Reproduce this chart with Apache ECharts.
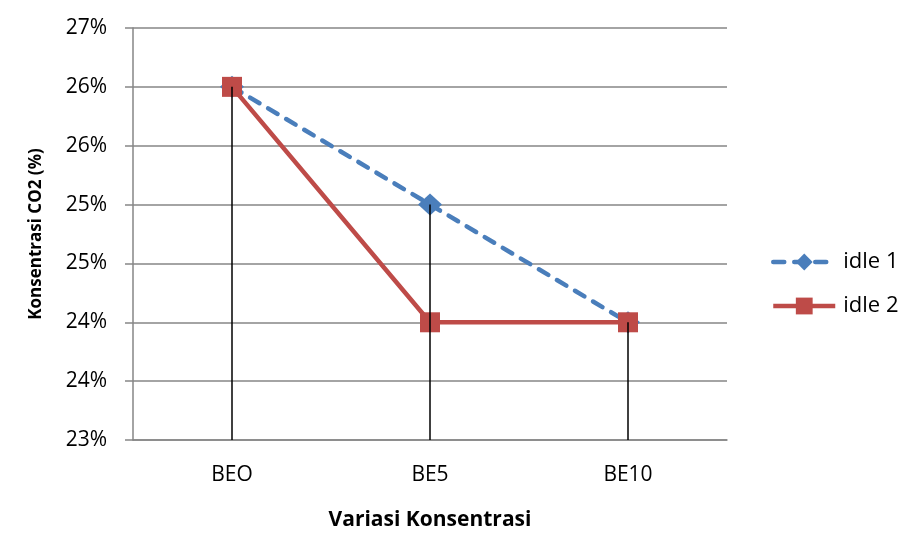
<!DOCTYPE html>
<html><head><meta charset="utf-8">
<script src="https://cdn.jsdelivr.net/npm/echarts@6/dist/echarts.min.js"></script>
<style>html,body{margin:0;padding:0;background:#fff}#c{width:920px;height:546px}</style>
</head><body><div id="c"></div>
<script>
var categories = ['BEO', 'BE5', 'BE10'];
var idle1 = [26, 25, 24];
var idle2 = [26, 24, 24];
var yMin = 23, yMax = 26.5, yStep = 0.5;
var FONT = 'Open Sans';

var dropTops = categories.map(function (c, i) { return [i, Math.max(idle1[i], idle2[i])]; });

var chart = echarts.init(document.getElementById('c'));
chart.setOption({
  animation: false,
  backgroundColor: '#fff',
  textStyle: { fontFamily: FONT },
  grid: { left: 133, right: 193, top: 28, bottom: 106 },
  legend: {
    orient: 'vertical', left: 766, top: 246, itemGap: 22,
    itemWidth: 62, itemHeight: 21,
    textStyle: { fontFamily: FONT, fontSize: 22, color: '#000', padding: [0, 0, 0, 3] },
    lineStyle: { width: 4.5 },
    data: ['idle 1', 'idle 2']
  },
  xAxis: {
    type: 'category', data: categories, boundaryGap: true,
    name: 'Variasi Konsentrasi', nameLocation: 'middle', nameGap: 70,
    nameTextStyle: { fontFamily: FONT, fontWeight: 'bold', fontSize: 21, color: '#000' },
    axisLine: { lineStyle: { color: '#868686', width: 1.5 } },
    axisTick: { show: false },
    axisLabel: { fontFamily: FONT, fontSize: 21, color: '#000', margin: 25 }
  },
  yAxis: {
    type: 'value', min: yMin, max: yMax, interval: yStep,
    name: 'Konsentrasi CO2 (%)', nameLocation: 'middle', nameGap: 88,
    nameTextStyle: { fontFamily: FONT, fontWeight: 'bold', fontSize: 17, color: '#000' },
    axisLine: { show: true, lineStyle: { color: '#868686', width: 1.5 } },
    axisTick: { show: true, length: 8, lineStyle: { color: '#868686', width: 1.5 } },
    splitLine: { lineStyle: { color: '#868686', width: 1.5 } },
    axisLabel: { fontFamily: FONT, fontSize: 21, color: '#000', margin: 26,
      formatter: function (v) { return Math.round(v) + '%'; } }
  },
  series: [
    {
      name: 'idle 1', type: 'line', data: idle1, z: 3,
      symbol: 'diamond', symbolSize: [24, 22],
      lineStyle: { color: '#4a7ebb', width: 4.5, type: [11, 10], cap: 'round' },
      itemStyle: { color: '#4a7ebb' }
    },
    {
      name: 'idle 2', type: 'line', data: idle2, z: 4,
      symbol: 'rect', symbolSize: 20,
      lineStyle: { color: '#be4b48', width: 4.5 },
      itemStyle: { color: '#be4b48' }
    },
    {
      name: 'drop', type: 'custom', z: 10, silent: true,
      data: dropTops,
      renderItem: function (params, api) {
        var top = api.coord([api.value(0), api.value(1)]);
        var bot = api.coord([api.value(0), yMin]);
        return { type: 'line', shape: { x1: top[0], y1: top[1], x2: bot[0], y2: bot[1] },
          style: { stroke: '#000', lineWidth: 1.5 } };
      }
    }
  ]
});
</script></body></html>
